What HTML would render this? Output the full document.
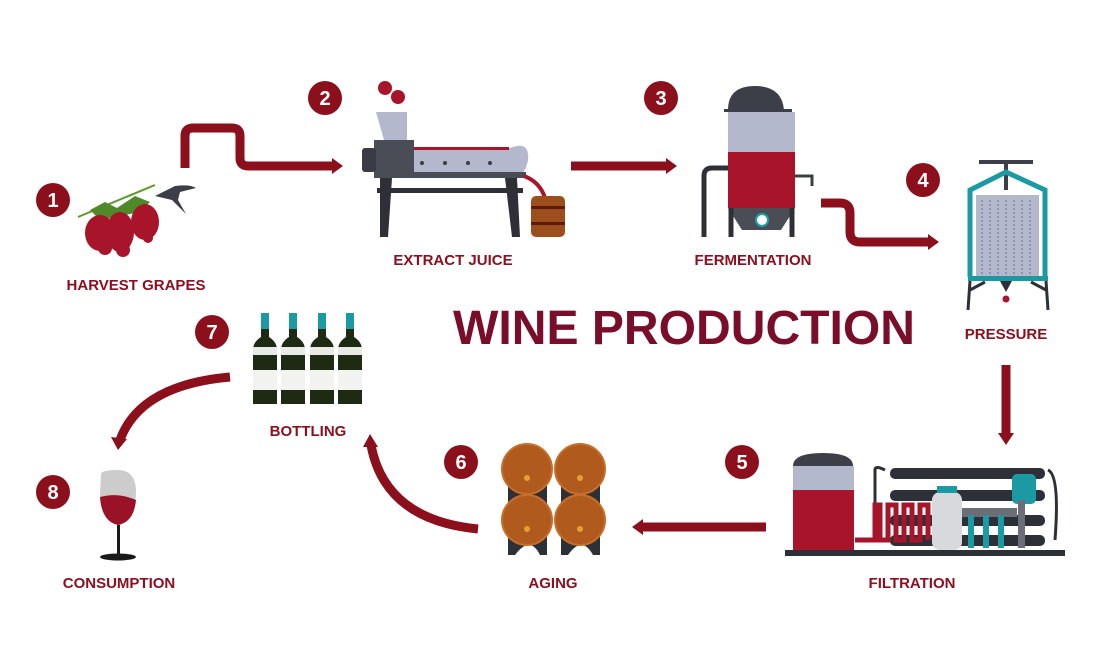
<!DOCTYPE html>
<html><head><meta charset="utf-8"><style>
html,body{margin:0;padding:0;background:#fff;}
svg{display:block;}
text{font-family:"Liberation Sans",sans-serif;font-weight:bold;}
.lbl{fill:#8c1020;font-size:15px;text-anchor:middle;}
.num{fill:#fff;font-size:20px;text-anchor:middle;}
.ar{fill:none;stroke:#8c0f1c;stroke-width:9;}
.ah{fill:#8c0f1c;}
</style></head><body>
<svg width="1100" height="666" viewBox="0 0 1100 666" xmlns="http://www.w3.org/2000/svg">
<rect width="1100" height="666" fill="#fff"/>
<!-- circles -->
<g fill="#8c0f1c">
<circle cx="53" cy="200" r="17"/><circle cx="325" cy="98" r="17"/><circle cx="661" cy="98" r="17"/>
<circle cx="923" cy="180" r="17"/><circle cx="742" cy="462" r="17"/><circle cx="461" cy="462" r="17"/>
<circle cx="212" cy="332" r="17"/><circle cx="53" cy="492" r="17"/>
</g>
<g class="num">
<text x="53" y="207">1</text><text x="325" y="105">2</text><text x="661" y="105">3</text>
<text x="923" y="187">4</text><text x="742" y="469">5</text><text x="461" y="469">6</text>
<text x="212" y="339">7</text><text x="53" y="499">8</text>
</g>
<!-- labels -->
<g class="lbl">
<text x="136" y="290">HARVEST GRAPES</text>
<text x="453" y="265">EXTRACT JUICE</text>
<text x="753" y="265">FERMENTATION</text>
<text x="1006" y="339">PRESSURE</text>
<text x="308" y="436">BOTTLING</text>
<text x="119" y="588">CONSUMPTION</text>
<text x="553" y="588">AGING</text>
<text x="912" y="588">FILTRATION</text>
</g>
<text x="684" y="344" fill="#7a0d2a" font-size="48" text-anchor="middle" textLength="462" lengthAdjust="spacingAndGlyphs">WINE PRODUCTION</text>
<!-- arrows -->
<path class="ar" d="M185 168 V136 Q185 128 193 128 H232 Q240 128 240 136 V158 Q240 166 248 166 H334"/>
<path class="ah" d="M332 158 L343 166 L332 174Z"/>
<path class="ar" d="M571 166 H668"/><path class="ah" d="M666 158 L677 166 L666 174Z"/>
<path class="ar" d="M821 203 H840 Q850 203 850 213 V232 Q850 242 860 242 H930"/><path class="ah" d="M928 234 L939 242 L928 250Z"/>
<path class="ar" d="M1006 365 V437"/><path class="ah" d="M998 433 L1006 445 L1014 433Z"/>
<path class="ar" d="M766 527 H640"/><path class="ah" d="M643 519 L632 527 L643 535Z"/>
<path class="ar" d="M478 529 Q385 520 371 445"/><path class="ah" d="M363 447 L370 434 L378 447Z"/>
<path class="ar" d="M230 377 Q140 385 120 440"/><path class="ah" d="M111 437 L118 450 L127 439Z"/>
<!-- grapes -->
<g>
<line x1="78" y1="217" x2="155" y2="185" stroke="#5a9a2a" stroke-width="2"/>
<path d="M90 210 l15 -8 l12 6 l18 -12 l15 6 l-10 10 l-40 8z" fill="#4f8a2a"/>
<g fill="#a8142a">
<ellipse cx="100" cy="233" rx="15" ry="18"/><ellipse cx="120" cy="232" rx="14" ry="20"/><ellipse cx="145" cy="222" rx="14" ry="18"/>
<ellipse cx="105" cy="248" rx="7" ry="7"/><ellipse cx="123" cy="250" rx="7" ry="7"/><ellipse cx="148" cy="238" rx="5" ry="5"/>
</g>
<path d="M155 196 L175 186 Q190 184 196 188 L180 192 L178 200 L186 214 L172 200Z" fill="#3d3f48"/>
</g>
<!-- extract juice machine -->
<g>
<g fill="#a8142a"><circle cx="385" cy="88" r="7"/><circle cx="398" cy="97" r="7"/></g>
<path d="M376 112 H407 V140 H384Z" fill="#b4b8cc"/>
<rect x="374" y="140" width="40" height="38" fill="#4a4c56"/>
<rect x="362" y="148" width="14" height="24" rx="3" fill="#3a3c45"/>
<path d="M414 148 H510 Q530 140 528 160 Q525 178 510 178 H414Z" fill="#b4b8cc"/>
<g fill="#3a3c45"><circle cx="422" cy="163" r="2"/><circle cx="445" cy="163" r="2"/><circle cx="468" cy="163" r="2"/><circle cx="490" cy="163" r="2"/></g>
<rect x="414" y="147" width="95" height="3" fill="#a8142a"/>
<rect x="374" y="172" width="152" height="6" fill="#4a4c56"/>
<path d="M380 178 H392 L388 237 H380Z M505 178 H517 L520 237 H512Z" fill="#2e3038"/>
<rect x="377" y="188" width="146" height="5" fill="#2e3038"/>
<path d="M524 176 Q540 182 545 198" stroke="#a8142a" stroke-width="4" fill="none"/>
<rect x="531" y="196" width="34" height="41" rx="5" fill="#9c4f1c"/>
<g fill="#5e1a10"><rect x="531" y="206" width="34" height="3"/><rect x="531" y="222" width="34" height="3"/></g>
</g>
<!-- fermentation tank -->
<g>
<path d="M728 110 Q728 86 755 86 Q782 86 784 110Z" fill="#3d3f48"/>
<rect x="724" y="109" width="68" height="3" fill="#3d3f48"/>
<rect x="728" y="112" width="67" height="42" fill="#b4b8cc"/>
<rect x="728" y="152" width="67" height="56" fill="#a8142a"/>
<path d="M728 208 H795 L781 230 H742Z" fill="#4a4c56"/>
<circle cx="762" cy="220" r="7" fill="#1aa0a8"/><circle cx="762" cy="220" r="5" fill="#fff"/>
<path d="M731 208 V237 M792 208 V237" stroke="#2e3038" stroke-width="5"/>
<path d="M728 168 H712 Q704 168 704 176 V237" stroke="#2e3038" stroke-width="5" fill="none"/>
<path d="M795 176 H812 V186" stroke="#3d3f48" stroke-width="3" fill="none"/>
</g>
<!-- pressure -->
<g>
<rect x="979" y="160" width="54" height="4" fill="#3d3f48"/>
<rect x="1004" y="160" width="4" height="30" fill="#3d3f48"/>
<path d="M970 277 V190 L1006 172 L1045 190 V277" stroke="#1b9aa3" stroke-width="5" fill="none"/>
<rect x="976" y="195" width="63" height="81" fill="#b4b8cc"/>
<g stroke="#6b6f82" stroke-width="1" stroke-dasharray="2 2">
<line x1="982" y1="200" x2="982" y2="274"/><line x1="990" y1="200" x2="990" y2="274"/><line x1="998" y1="200" x2="998" y2="274"/><line x1="1006" y1="200" x2="1006" y2="274"/><line x1="1014" y1="200" x2="1014" y2="274"/><line x1="1022" y1="200" x2="1022" y2="274"/><line x1="1030" y1="200" x2="1030" y2="274"/></g>
<rect x="968" y="276" width="80" height="5" fill="#1b9aa3"/>
<path d="M970 281 L968 310 M1046 281 L1048 310 M970 290 L985 282 M1046 290 L1031 282" stroke="#2e3038" stroke-width="3"/>
<path d="M1000 281 H1012 L1006 292Z" fill="#2e3038"/>
<circle cx="1006" cy="299" r="3.5" fill="#a8142a"/>
</g>
<!-- filtration -->
<g>
<path d="M793 466 Q793 453 823 453 Q853 453 853 466Z" fill="#3d3f48"/>
<rect x="793" y="466" width="61" height="26" fill="#b4b8cc"/>
<rect x="793" y="490" width="61" height="62" fill="#a8142a"/>
<g fill="#2e3038"><rect x="890" y="468" width="155" height="11" rx="5"/><rect x="890" y="490" width="155" height="11" rx="5"/><rect x="890" y="515" width="155" height="11" rx="5"/><rect x="890" y="535" width="155" height="11" rx="5"/></g>
<path d="M875 540 V470 Q875 465 885 470 M1048 470 Q1060 475 1055 540" stroke="#2e3038" stroke-width="3" fill="none"/>
<path d="M855 540 H875 V505 H880 V540 H888 V505 H896 V540 H904 V505 H912 V540 H920 V505 H928 V540" stroke="#a8142a" stroke-width="5" fill="none"/>
<rect x="932" y="492" width="30" height="58" rx="8" fill="#d8d9dc"/>
<rect x="937" y="486" width="20" height="7" fill="#1b9aa3"/>
<rect x="962" y="508" width="55" height="9" fill="#6b6e76"/>
<g fill="#1b9aa3"><rect x="968" y="515" width="6" height="33"/><rect x="983" y="515" width="6" height="33"/><rect x="998" y="515" width="6" height="33"/></g>
<rect x="1012" y="474" width="24" height="30" rx="5" fill="#1b9aa3"/>
<rect x="1018" y="500" width="7" height="48" fill="#6b6e76"/>
<rect x="785" y="550" width="280" height="6" fill="#2e3038"/>
</g>
<!-- barrels -->
<g>
<path d="M508 470 H547 V555 H540 Q530 535 515 555 H508Z M561 470 H600 V555 H593 Q582 535 568 555 H561Z" fill="#2e3038"/>
<g fill="#b05a1e" stroke="#c76f2a" stroke-width="2">
<circle cx="527" cy="469" r="25"/><circle cx="580" cy="469" r="25"/><circle cx="527" cy="520" r="25"/><circle cx="580" cy="520" r="25"/></g>
<g fill="#e8a030"><circle cx="527" cy="478" r="3"/><circle cx="580" cy="478" r="3"/><circle cx="527" cy="529" r="3"/><circle cx="580" cy="529" r="3"/></g>
</g>
<!-- bottles -->
<g>
<g id="b">
<rect x="261" y="313" width="8" height="16" fill="#1b9aa3"/>
<path d="M261 329 H269 V337 Q277 342 277 350 V404 H253 V350 Q253 342 261 337Z" fill="#1e2a12"/>
<rect x="253" y="347" width="24" height="8" fill="#e8eae6"/>
<rect x="253" y="370" width="24" height="20" fill="#f2f3f0"/>
</g>
<use href="#b" x="28"/><use href="#b" x="57"/><use href="#b" x="85"/>
</g>
<!-- glass -->
<g>
<path d="M101 474 Q101 470 118 470 Q135 470 136 490 Q136 520 118 525 Q100 520 100 495Z" fill="#cccccc"/>
<path d="M100 497 Q118 492 136 500 Q134 522 118 525 Q102 522 100 497Z" fill="#9a1228"/>
<rect x="117" y="525" width="3" height="30" fill="#1a1a1a"/>
<ellipse cx="118" cy="557" rx="18" ry="3.5" fill="#1a1a1a"/>
</g>
</svg>
</body></html>
